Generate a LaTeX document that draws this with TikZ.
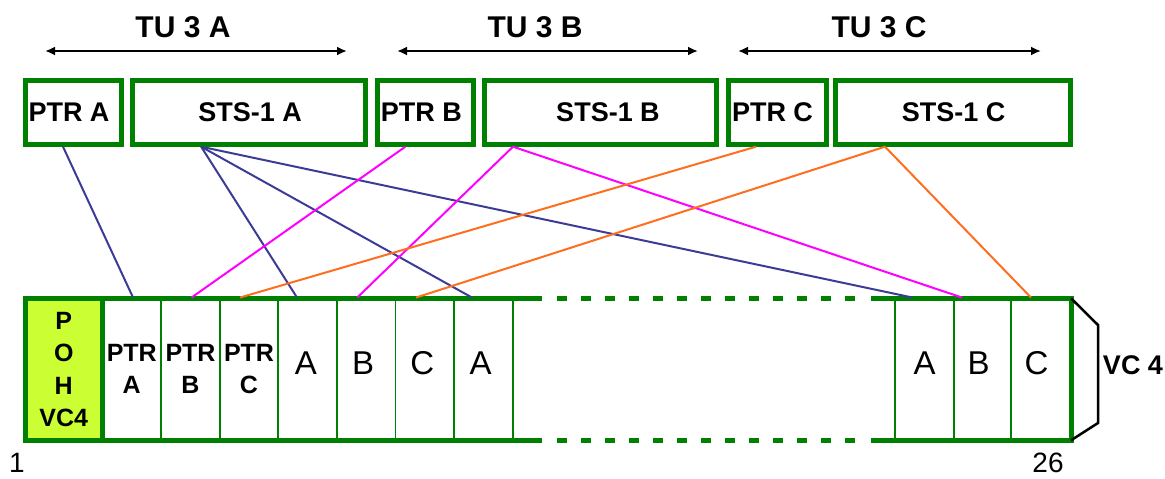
\documentclass[tikz,border=0pt]{standalone}
\usepackage{fontspec}
\setmainfont{Liberation Sans}
\usetikzlibrary{arrows.meta,calc}
\definecolor{grn}{RGB}{0,128,0}
\definecolor{pohfill}{RGB}{204,255,51}
\definecolor{navyline}{RGB}{60,60,150}
\definecolor{magline}{RGB}{255,0,255}
\definecolor{orgline}{RGB}{255,110,30}
\begin{document}
\begin{tikzpicture}[x=1pt,y=-1pt,
  tbox/.style={draw=grn, line width=5pt, minimum height=64pt, inner sep=0pt,
    font=\fontsize{27}{30}\selectfont\bfseries},
  tulabel/.style={font=\fontsize{30}{34}\selectfont\bfseries},
  tuarrow/.style={line width=2.8pt, {Latex[length=10pt,width=9pt]}-{Latex[length=10pt,width=9pt]}},
  cellbox/.style={draw=grn, line width=1.5pt, minimum height=142pt, inner sep=0pt},
  ptrcell/.style={cellbox, font=\fontsize{25}{32}\selectfont\bfseries, align=center},
  lcell/.style={cellbox, font=\fontsize{33}{36}\selectfont, text depth=12pt},
  pohbox/.style={draw=grn, fill=pohfill, line width=5pt, minimum width=77.5pt, minimum height=142pt,
    inner sep=0pt, align=center, font=\fontsize{25}{32.5}\selectfont\bfseries},
  frameline/.style={draw=grn, line width=5pt},
  framedash/.style={draw=grn, line width=4.5pt, dash pattern=on 10pt off 14pt},
  bluec/.style={draw=navyline, line width=2pt},
  magc/.style={draw=magline, line width=2pt},
  orgc/.style={draw=orgline, line width=2pt},
  bracel/.style={draw=black, line width=2.5pt},
  numlabel/.style={font=\fontsize{28}{32}\selectfont, inner sep=0pt},
]
\useasboundingbox (0,0) rectangle (1165,479);

% TU labels and arrows
\node[tulabel] (tuA) at (183,27.5) {TU 3 A};
\node[tulabel] (tuB) at (535,27.5) {TU 3 B};
\node[tulabel] (tuC) at (879,27.5) {TU 3 C};
\coordinate (aAl) at (45,51);  \coordinate (aAr) at (347,51);
\coordinate (aBl) at (397,51); \coordinate (aBr) at (698,51);
\coordinate (aCl) at (738,51); \coordinate (aCr) at (1041,51);
\draw[tuarrow] (aAl) -- (aAr);
\draw[tuarrow] (aBl) -- (aBr);
\draw[tuarrow] (aCl) -- (aCr);

% top boxes
\node[tbox, minimum width=96.6pt] (ptrA) at (73.5,112.2) {PTR A\hspace*{9pt}};
\node[tbox, minimum width=233.3pt] (stsA) at (249.15,112.2) {\hspace*{2pt}STS-1 A};
\node[tbox, minimum width=95.7pt] (ptrB) at (425.35,112.2) {PTR B\hspace*{8pt}};
\node[tbox, minimum width=232.6pt] (stsB) at (600.5,112.2) {\hspace*{15pt}STS-1 B};
\node[tbox, minimum width=98pt] (ptrC) at (777.5,112.2) {PTR C\hspace*{10pt}};
\node[tbox, minimum width=235pt] (stsC) at (952.7,112.2) {\hspace*{2pt}STS-1 C};

% bottom cells
\node[pohbox] (poh) at (63.75,369.3) {P\\O\\H\\VC4};
\node[ptrcell, minimum width=58.5pt] (cPA) at (131.75,369.3) {PTR\\A};
\node[ptrcell, minimum width=59pt] (cPB) at (190.5,369.3) {PTR\\B};
\node[ptrcell, minimum width=58pt] (cPC) at (249,369.3) {PTR\\C};
\node[lcell, minimum width=59pt] (cA1) at (307.5,369.3) {A\hspace*{3pt}};
\node[lcell, minimum width=58.5pt] (cB1) at (366.25,369.3) {B\hspace*{6pt}};
\node[lcell, minimum width=58.5pt] (cC1) at (424.75,369.3) {C\hspace*{5pt}};
\node[lcell, minimum width=59pt] (cA2) at (483.5,369.3) {A\hspace*{6pt}};
\node[lcell, minimum width=59pt] (cAr) at (924.5,369.3) {A};
\node[lcell, minimum width=57pt] (cBr) at (982.5,369.3) {B\hspace*{8pt}};
\node[lcell, minimum width=60pt] (cCr) at (1041,369.3) {C\hspace*{9pt}};

% frame lines
\coordinate (tA) at (102.5,298.3); \coordinate (tB) at (542,298.3);
\coordinate (tC) at (556.5,298.3); \coordinate (tD) at (857,298.3);
\coordinate (tE) at (871,298.3);  \coordinate (tF) at (1071,298.3);
\coordinate (bA) at (102.5,440.3); \coordinate (bB) at (542,440.3);
\coordinate (bC) at (556.5,440.3); \coordinate (bD) at (857,440.3);
\coordinate (bE) at (871,440.3);  \coordinate (bF) at (1071,440.3);
\draw[frameline] (tA) -- (tB);
\draw[framedash] (tC) -- (tD);
\draw[frameline] (tE) -- (tF);
\draw[frameline] (bA) -- (bB);
\draw[framedash] (bC) -- (bD);
\draw[frameline] (bE) -- (bF);
\draw[frameline, line cap=rect] (tF) -- (bF);

% VC 4 brace
\draw[bracel] (tF) -- ++(27,26.7) -- ++(0,98) -- (bF);
\node[font=\fontsize{27}{30}\selectfont\bfseries] (vc4) at (1133,365) {VC 4};
\node[numlabel] (n1) at (17,463) {1};
\node[numlabel] (n26) at (1048,463) {26};

% connectors
\draw[bluec] ([xshift=-10.5pt]ptrA.south) -- ([xshift=1.3pt]cPA.north);
\draw[bluec] ([xshift=-48pt]stsA.south) -- ([xshift=-10.5pt]cA1.north);
\draw[bluec] ([xshift=-48pt]stsA.south) -- ([xshift=-11.5pt]cA2.north);
\draw[bluec] ([xshift=-48pt]stsA.south) -- ([xshift=-12pt]cAr.north);
\draw[magc] ([xshift=-20pt]ptrB.south) -- ([xshift=1pt]cPB.north);
\draw[magc] ([xshift=-87.5pt]stsB.south) -- ([xshift=-9pt]cB1.north);
\draw[magc] ([xshift=-87.5pt]stsB.south) -- ([xshift=-20.5pt]cBr.north);
\draw[orgc] ([xshift=-21.5pt]ptrC.south) -- ([xshift=-9pt]cPC.north);
\draw[orgc] ([xshift=-67.7pt]stsC.south) -- ([xshift=-8.75pt]cC1.north);
\draw[orgc] ([xshift=-67.7pt]stsC.south) -- ([xshift=-10pt]cCr.north);
\end{tikzpicture}
\end{document}
